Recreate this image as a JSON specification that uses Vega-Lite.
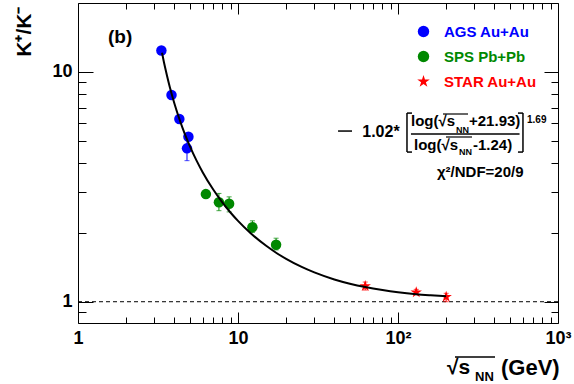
{
  "$schema": "https://vega.github.io/schema/vega-lite/v6.json",
  "width": 480,
  "height": 320,
  "autosize": "none",
  "padding": {"left": 78, "top": 3, "right": 16, "bottom": 61},
  "background": "white",
  "config": {
    "view": {"stroke": "black", "strokeWidth": 1},
    "font": "Liberation Sans",
    "axis": {"grid": false, "domain": false, "tickColor": "black", "tickWidth": 1, "labelFont": "Liberation Sans", "labelFontWeight": "bold", "labelFontSize": 18, "labelColor": "black", "titleColor": "black"},
    "legend": {"orient": "top-right", "offset": 21, "labelFont": "Liberation Sans", "labelFontWeight": "bold", "labelFontSize": 15, "symbolSize": 130, "symbolStrokeWidth": 0, "labelOffset": 13, "rowPadding": 9, "padding": 0}
  },
  "resolve": {"axis": {"x": "independent", "y": "independent"}, "legend": {"color": "independent", "shape": "independent"}},
  "datasets": {
    "pts": [
      {"sqrt": 3.32, "ratio": 12.4, "lo": 12.1, "hi": 12.7, "exp": "AGS Au+Au"},
      {"sqrt": 3.84, "ratio": 7.94, "lo": 7.75, "hi": 8.15, "exp": "AGS Au+Au"},
      {"sqrt": 4.3, "ratio": 6.24, "lo": 6.08, "hi": 6.4, "exp": "AGS Au+Au"},
      {"sqrt": 4.9, "ratio": 5.22, "lo": 5.08, "hi": 5.36, "exp": "AGS Au+Au"},
      {"sqrt": 4.8, "ratio": 4.65, "lo": 4.11, "hi": 5.15, "exp": "AGS Au+Au"},
      {"sqrt": 6.3, "ratio": 2.94, "lo": 2.86, "hi": 3.02, "exp": "SPS Pb+Pb"},
      {"sqrt": 7.6, "ratio": 2.71, "lo": 2.49, "hi": 2.96, "exp": "SPS Pb+Pb"},
      {"sqrt": 8.8, "ratio": 2.67, "lo": 2.46, "hi": 2.86, "exp": "SPS Pb+Pb"},
      {"sqrt": 12.3, "ratio": 2.11, "lo": 2.0, "hi": 2.25, "exp": "SPS Pb+Pb"},
      {"sqrt": 17.3, "ratio": 1.77, "lo": 1.68, "hi": 1.89, "exp": "SPS Pb+Pb"},
      {"sqrt": 62.4, "ratio": 1.17, "lo": 1.124, "hi": 1.218, "exp": "STAR Au+Au"},
      {"sqrt": 130, "ratio": 1.099, "lo": 1.073, "hi": 1.132, "exp": "STAR Au+Au"},
      {"sqrt": 200, "ratio": 1.051, "lo": 1.0, "hi": 1.088, "exp": "STAR Au+Au"}
    ],
    "fit": [
      {"sqrt": 3.35, "ratio": 12.12}, {"sqrt": 3.4, "ratio": 11.52}, {"sqrt": 3.45, "ratio": 10.97},
      {"sqrt": 3.5, "ratio": 10.48}, {"sqrt": 3.6, "ratio": 9.62}, {"sqrt": 3.75, "ratio": 8.58},
      {"sqrt": 4.0, "ratio": 7.31}, {"sqrt": 4.25, "ratio": 6.40}, {"sqrt": 4.5, "ratio": 5.71},
      {"sqrt": 4.75, "ratio": 5.18}, {"sqrt": 5.0, "ratio": 4.755}, {"sqrt": 5.5, "ratio": 4.12},
      {"sqrt": 6.0, "ratio": 3.67}, {"sqrt": 7.0, "ratio": 3.077}, {"sqrt": 8.0, "ratio": 2.70},
      {"sqrt": 9.0, "ratio": 2.439}, {"sqrt": 10, "ratio": 2.247}, {"sqrt": 12, "ratio": 1.986},
      {"sqrt": 15, "ratio": 1.751}, {"sqrt": 17.3, "ratio": 1.634}, {"sqrt": 20, "ratio": 1.537},
      {"sqrt": 25, "ratio": 1.417}, {"sqrt": 30, "ratio": 1.341}, {"sqrt": 40, "ratio": 1.250},
      {"sqrt": 50, "ratio": 1.198}, {"sqrt": 62.4, "ratio": 1.158}, {"sqrt": 80, "ratio": 1.124},
      {"sqrt": 100, "ratio": 1.100}, {"sqrt": 130, "ratio": 1.079}, {"sqrt": 160, "ratio": 1.067},
      {"sqrt": 200, "ratio": 1.056}
    ],
    "one": [{}]
  },
  "layer": [
    {
      "data": {"name": "one"},
      "mark": {"type": "rule", "strokeDash": [4, 3], "color": "black", "strokeWidth": 1},
      "encoding": {"y": {"datum": 1, "type": "quantitative", "axis": null, "scale": {"type": "log", "domain": [0.808, 19.95], "nice": false}}}
    },
    {
      "data": {"name": "pts"},
      "mark": {"type": "rule", "strokeWidth": 1},
      "encoding": {
        "x": {"field": "sqrt", "type": "quantitative", "scale": {"type": "log", "domain": [1, 1000], "nice": false},
          "axis": {"orient": "bottom", "values": [2,3,4,5,6,7,8,9,20,30,40,50,60,70,80,90,200,300,400,500,600,700,800,900], "tickSize": -6, "labels": false, "title": null}},
        "y": {"field": "lo", "type": "quantitative", "scale": {"type": "log", "domain": [0.808, 19.95], "nice": false},
          "axis": {"orient": "left", "values": [0.9,2,3,4,5,6,7,8,9], "tickSize": -8, "labels": false, "title": null}},
        "y2": {"field": "hi"},
        "color": {"field": "exp", "type": "nominal", "legend": null, "scale": {"domain": ["AGS Au+Au", "SPS Pb+Pb", "STAR Au+Au"], "range": ["#0000ff", "#008800", "#ff0000"]}}
      }
    },
    {
      "data": {"name": "pts"},
      "mark": {"type": "tick", "orient": "horizontal", "size": 5, "thickness": 1},
      "encoding": {
        "x": {"field": "sqrt", "type": "quantitative",
          "axis": {"orient": "top", "values": [2,3,4,5,6,7,8,9,20,30,40,50,60,70,80,90,200,300,400,500,600,700,800,900], "tickSize": -6, "labels": false, "title": null}},
        "y": {"field": "lo", "type": "quantitative",
          "axis": {"orient": "right", "values": [0.9,2,3,4,5,6,7,8,9], "tickSize": -7, "labels": false, "title": null}},
        "color": {"field": "exp", "type": "nominal", "legend": null}
      }
    },
    {
      "data": {"name": "pts"},
      "mark": {"type": "tick", "orient": "horizontal", "size": 5, "thickness": 1},
      "encoding": {
        "x": {"field": "sqrt", "type": "quantitative", "axis": null},
        "y": {"field": "hi", "type": "quantitative", "axis": null},
        "color": {"field": "exp", "type": "nominal", "legend": null}
      }
    },
    {
      "data": {"name": "pts"},
      "mark": {"type": "point", "filled": true, "opacity": 1, "size": 110},
      "encoding": {
        "x": {"field": "sqrt", "type": "quantitative",
          "axis": {"orient": "top", "values": [1, 10, 100, 1000], "tickSize": -11, "labels": false, "title": null}},
        "y": {"field": "ratio", "type": "quantitative",
          "axis": {"orient": "right", "values": [1, 10], "tickSize": -14, "labels": false, "title": null}},
        "color": {"field": "exp", "type": "nominal", "legend": {"title": null, "labelColor": {"expr": "scale('color', datum.value)"}}},
        "shape": {"field": "exp", "type": "nominal", "scale": {"domain": ["AGS Au+Au", "SPS Pb+Pb", "STAR Au+Au"], "range": ["circle", "circle", "M0,-1.15L0.258,-0.355L1.094,-0.355L0.417,0.136L0.676,0.93L0,0.439L-0.676,0.93L-0.417,0.136L-1.094,-0.355L-0.258,-0.355Z"]}, "legend": {"title": null, "labelColor": {"expr": "scale('color', datum.value)"}}}
      }
    },
    {
      "data": {"name": "fit"},
      "mark": {"type": "line", "color": "black", "strokeWidth": 2, "interpolate": "monotone"},
      "encoding": {
        "x": {"field": "sqrt", "type": "quantitative",
          "axis": {"orient": "bottom", "values": [1, 10, 100, 1000], "tickSize": -11, "labelPadding": 17, "labelOverlap": false, "labelFlush": false, "labelBound": false,
            "labelExpr": "datum.value == 1 ? '1' : datum.value == 10 ? '10' : datum.value == 100 ? '10²' : '10³'", "title": null}},
        "y": {"field": "ratio", "type": "quantitative",
          "axis": {"orient": "left", "values": [1, 10], "tickSize": -15, "labelPadding": 21, "labelOverlap": false,
            "labelExpr": "datum.value == 1 ? '1' : '10'",
            "title": "K⁺/K⁻", "titleFont": "Liberation Sans", "titleFontWeight": "bold", "titleFontSize": 21, "titleAngle": 270, "titleX": -54, "titleY": 3, "titleAlign": "right", "titleBaseline": "middle"}}
      }
    },
    {
      "data": {"name": "one"},
      "mark": {"type": "text", "text": "(b)", "align": "left", "baseline": "middle", "font": "Liberation Sans", "fontWeight": "bold", "fontSize": 19, "color": "black"},
      "encoding": {"x": {"datum": 1.54, "type": "quantitative", "axis": null}, "y": {"datum": 14.19, "type": "quantitative", "axis": null}}
    },
    {
      "data": {"name": "one"},
      "mark": {"type": "rule", "color": "black", "strokeWidth": 1.5},
      "encoding": {"x": {"datum": 42.2, "type": "quantitative", "axis": null}, "x2": {"datum": 51.6}, "y": {"datum": 5.53, "type": "quantitative", "axis": null}}
    },
    {
      "data": {"name": "one"},
      "mark": {"type": "text", "text": "1.02*", "align": "left", "baseline": "middle", "font": "Liberation Sans", "fontWeight": "bold", "fontSize": 16, "color": "black"},
      "encoding": {"x": {"datum": 59.8, "type": "quantitative", "axis": null}, "y": {"datum": 5.48, "type": "quantitative", "axis": null}}
    },
    {
      "data": {"name": "one"},
      "mark": {"type": "rule", "color": "black", "strokeWidth": 1.5},
      "encoding": {"x": {"datum": 113.8, "type": "quantitative", "axis": null}, "y": {"datum": 6.62, "type": "quantitative", "axis": null}, "y2": {"datum": 4.48}}
    },
    {
      "data": {"name": "one"},
      "mark": {"type": "rule", "color": "black", "strokeWidth": 1.5},
      "encoding": {"x": {"datum": 113.8, "type": "quantitative", "axis": null}, "x2": {"datum": 122.3}, "y": {"datum": 6.62, "type": "quantitative", "axis": null}}
    },
    {
      "data": {"name": "one"},
      "mark": {"type": "rule", "color": "black", "strokeWidth": 1.5},
      "encoding": {"x": {"datum": 113.8, "type": "quantitative", "axis": null}, "x2": {"datum": 122.3}, "y": {"datum": 4.48, "type": "quantitative", "axis": null}}
    },
    {
      "data": {"name": "one"},
      "mark": {"type": "rule", "color": "black", "strokeWidth": 1.5},
      "encoding": {"x": {"datum": 604, "type": "quantitative", "axis": null}, "y": {"datum": 6.62, "type": "quantitative", "axis": null}, "y2": {"datum": 4.48}}
    },
    {
      "data": {"name": "one"},
      "mark": {"type": "rule", "color": "black", "strokeWidth": 1.5},
      "encoding": {"x": {"datum": 562, "type": "quantitative", "axis": null}, "x2": {"datum": 604}, "y": {"datum": 6.62, "type": "quantitative", "axis": null}}
    },
    {
      "data": {"name": "one"},
      "mark": {"type": "rule", "color": "black", "strokeWidth": 1.5},
      "encoding": {"x": {"datum": 562, "type": "quantitative", "axis": null}, "x2": {"datum": 604}, "y": {"datum": 4.48, "type": "quantitative", "axis": null}}
    },
    {
      "data": {"name": "one"},
      "mark": {"type": "text", "text": "log(√s", "align": "left", "baseline": "middle", "font": "Liberation Sans", "fontWeight": "bold", "fontSize": 15, "color": "black"},
      "encoding": {"x": {"datum": 120.5, "type": "quantitative", "axis": null}, "y": {"datum": 6.11, "type": "quantitative", "axis": null}}
    },
    {
      "data": {"name": "one"},
      "mark": {"type": "text", "text": "NN", "align": "left", "baseline": "middle", "font": "Liberation Sans", "fontWeight": "bold", "fontSize": 9, "color": "black"},
      "encoding": {"x": {"datum": 230.4, "type": "quantitative", "axis": null}, "y": {"datum": 5.59, "type": "quantitative", "axis": null}}
    },
    {
      "data": {"name": "one"},
      "mark": {"type": "text", "text": "+21.93)", "align": "left", "baseline": "middle", "font": "Liberation Sans", "fontWeight": "bold", "fontSize": 15, "color": "black"},
      "encoding": {"x": {"datum": 277.9, "type": "quantitative", "axis": null}, "y": {"datum": 6.11, "type": "quantitative", "axis": null}}
    },
    {
      "data": {"name": "one"},
      "mark": {"type": "rule", "color": "black", "strokeWidth": 1.2},
      "encoding": {"x": {"datum": 191, "type": "quantitative", "axis": null}, "x2": {"datum": 274}, "y": {"datum": 6.56, "type": "quantitative", "axis": null}}
    },
    {
      "data": {"name": "one"},
      "mark": {"type": "rule", "color": "black", "strokeWidth": 1.5},
      "encoding": {"x": {"datum": 120.5, "type": "quantitative", "axis": null}, "x2": {"datum": 575}, "y": {"datum": 5.37, "type": "quantitative", "axis": null}}
    },
    {
      "data": {"name": "one"},
      "mark": {"type": "text", "text": "log(√s", "align": "left", "baseline": "middle", "font": "Liberation Sans", "fontWeight": "bold", "fontSize": 15, "color": "black"},
      "encoding": {"x": {"datum": 125.9, "type": "quantitative", "axis": null}, "y": {"datum": 4.81, "type": "quantitative", "axis": null}}
    },
    {
      "data": {"name": "one"},
      "mark": {"type": "text", "text": "NN", "align": "left", "baseline": "middle", "font": "Liberation Sans", "fontWeight": "bold", "fontSize": 9, "color": "black"},
      "encoding": {"x": {"datum": 240.5, "type": "quantitative", "axis": null}, "y": {"datum": 4.48, "type": "quantitative", "axis": null}}
    },
    {
      "data": {"name": "one"},
      "mark": {"type": "text", "text": "-1.24)", "align": "left", "baseline": "middle", "font": "Liberation Sans", "fontWeight": "bold", "fontSize": 15, "color": "black"},
      "encoding": {"x": {"datum": 294.3, "type": "quantitative", "axis": null}, "y": {"datum": 4.81, "type": "quantitative", "axis": null}}
    },
    {
      "data": {"name": "one"},
      "mark": {"type": "rule", "color": "black", "strokeWidth": 1.2},
      "encoding": {"x": {"datum": 199.5, "type": "quantitative", "axis": null}, "x2": {"datum": 290}, "y": {"datum": 5.21, "type": "quantitative", "axis": null}}
    },
    {
      "data": {"name": "one"},
      "mark": {"type": "text", "text": "1.69", "align": "left", "baseline": "middle", "font": "Liberation Sans", "fontWeight": "bold", "fontSize": 10, "color": "black"},
      "encoding": {"x": {"datum": 640, "type": "quantitative", "axis": null}, "y": {"datum": 6.18, "type": "quantitative", "axis": null}}
    },
    {
      "data": {"name": "one"},
      "mark": {"type": "text", "text": "χ²/NDF=20/9", "align": "left", "baseline": "middle", "font": "Liberation Sans", "fontWeight": "bold", "fontSize": 15, "color": "black"},
      "encoding": {"x": {"datum": 175.2, "type": "quantitative", "axis": null}, "y": {"datum": 3.67, "type": "quantitative", "axis": null}}
    },
    {
      "data": {"name": "one"},
      "mark": {"type": "text", "text": "√s", "align": "left", "baseline": "middle", "font": "Liberation Sans", "fontWeight": "bold", "fontSize": 21, "color": "black"},
      "encoding": {"x": {"datum": 202.4, "type": "quantitative", "axis": null}, "y": {"datum": 0.5147, "type": "quantitative", "axis": null}}
    },
    {
      "data": {"name": "one"},
      "mark": {"type": "text", "text": "NN", "align": "left", "baseline": "middle", "font": "Liberation Sans", "fontWeight": "bold", "fontSize": 13, "color": "black"},
      "encoding": {"x": {"datum": 303, "type": "quantitative", "axis": null}, "y": {"datum": 0.47, "type": "quantitative", "axis": null}}
    },
    {
      "data": {"name": "one"},
      "mark": {"type": "text", "text": "(GeV)", "align": "left", "baseline": "middle", "font": "Liberation Sans", "fontWeight": "bold", "fontSize": 22, "color": "black"},
      "encoding": {"x": {"datum": 440, "type": "quantitative", "axis": null}, "y": {"datum": 0.5147, "type": "quantitative", "axis": null}}
    },
    {
      "data": {"name": "one"},
      "mark": {"type": "rule", "color": "black", "strokeWidth": 1.5},
      "encoding": {"x": {"datum": 227, "type": "quantitative", "axis": null}, "x2": {"datum": 404}, "y": {"datum": 0.5744, "type": "quantitative", "axis": null}}
    }
  ]
}
